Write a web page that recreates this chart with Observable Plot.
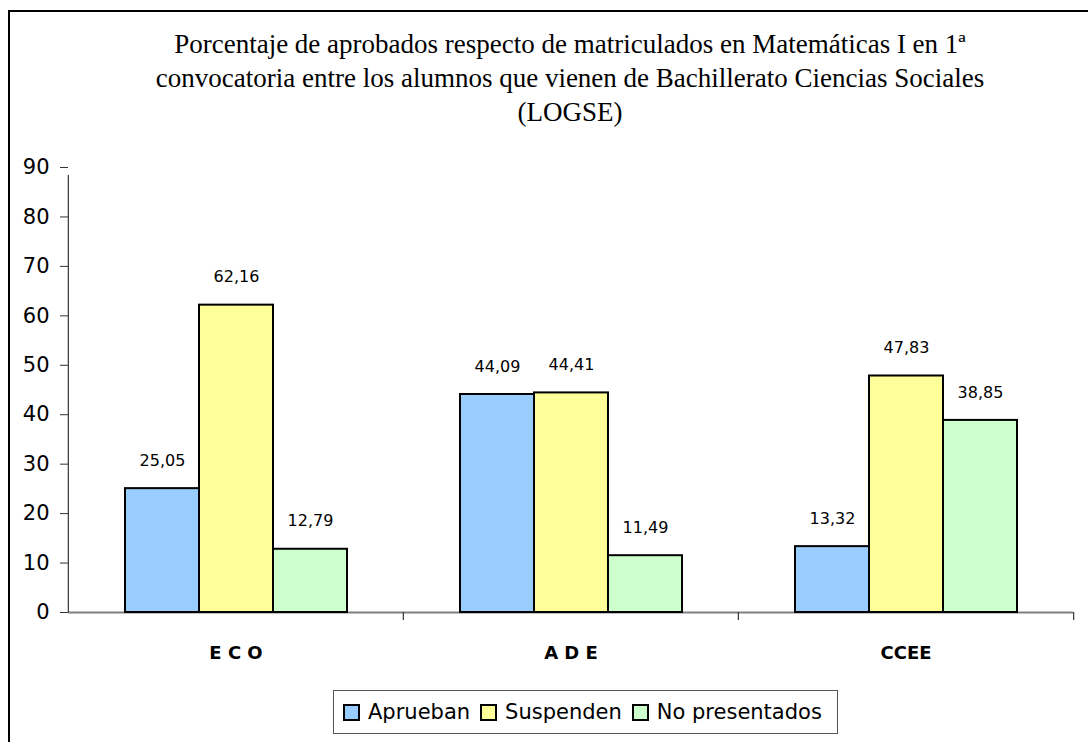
<!DOCTYPE html>
<html>
<head>
<meta charset="utf-8">
<script src="https://cdn.jsdelivr.net/npm/d3@7"></script>
<script src="https://cdn.jsdelivr.net/npm/@observablehq/plot@0.6"></script>
<style>
  html, body { margin: 0; padding: 0; background: #fff; width: 1088px; height: 742px; overflow: hidden; }
  #frame { position: absolute; left: 8px; top: 10px; width: 2000px; height: 2000px; border-left: 2px solid #000; border-top: 2px solid #000; box-sizing: border-box; }
  #title { position: absolute; left: 10px; width: 1120px; top: 27px; text-align: center; font-family: "Liberation Serif", "Times New Roman", serif; font-size: 27px; line-height: 34px; color: #000; }
  #chart { position: absolute; left: 0; top: 140px; }
  #legend { position: absolute; left: 333px; top: 690px; width: 505px; height: 44px; border: 1px solid #555; box-sizing: border-box; display: flex; align-items: center; padding-left: 9px; gap: 10px; font-family: "DejaVu Sans", sans-serif; font-size: 21px; color: #000; }
  .item { display: flex; align-items: center; gap: 8px; }
  .sw { width: 17px; height: 17px; border: 2px solid #000; box-sizing: border-box; }
</style>
</head>
<body>
<div id="frame"></div>
<div id="title"></div>
<div id="chart"></div>
<div id="legend"></div>
<script>
const titleLines = [
  "Porcentaje de aprobados respecto de matriculados en Matemáticas I en 1ª",
  "convocatoria entre los alumnos que vienen de Bachillerato Ciencias Sociales",
  "(LOGSE)"
];
const categories = ["E C O", "A D E", "CCEE"];
const series = ["Aprueban", "Suspenden", "No presentados"];
const aprueban = [25.05, 44.09, 13.32];
const suspenden = [62.16, 44.41, 47.83];
const noPresentados = [12.79, 11.49, 38.85];
const yTicks = [0, 10, 20, 30, 40, 50, 60, 70, 80, 90];
const colors = ["#99CCFF", "#FFFF99", "#CCFFCC"];

const valuesBySeries = [aprueban, suspenden, noPresentados];
const data = categories.flatMap((c, i) =>
  series.map((s, j) => ({category: c, series: s, value: valuesBySeries[j][i]}))
);

document.getElementById("title").innerHTML = titleLines.map(t => `<div>${t}</div>`).join("");

const W = 1088, ML = 67, MR = 15;
const band = (W - ML - MR) / categories.length;
const fmt = v => v.toFixed(2).replace(".", ",");

const chart = Plot.plot({
  width: W,
  height: 540,
  marginTop: 27,
  marginBottom: 68,
  marginLeft: ML,
  marginRight: MR,
  style: {fontFamily: "DejaVu Sans, sans-serif", fontSize: "16px", color: "#000", background: "transparent"},
  fx: {domain: categories, padding: 0, label: null},
  x: {domain: series, paddingInner: 0, paddingOuter: 0.7355, axis: null},
  y: {domain: [0, 90]},
  color: {domain: series, range: colors},
  marks: [
    Plot.ruleY([0], {stroke: "#808080", strokeWidth: 2}),
    Plot.ruleX([categories[0]], {fx: d => d, x: null, y1: 0, y2: 90, insetBottom: -8, dx: -band / 2, stroke: "#333", strokeWidth: 1.2}),
    Plot.ruleX(categories.slice(1), {fx: d => d, x: null, y1: 0, y2: 0, insetBottom: -8, dx: -band / 2, stroke: "#333", strokeWidth: 1.2}),
    Plot.ruleX([categories[categories.length - 1]], {fx: d => d, x: null, y1: 0, y2: 0, insetBottom: -8, dx: band / 2, stroke: "#333", strokeWidth: 1.2}),
    Plot.barY(data, {fx: "category", x: "series", y: "value", fill: "series", stroke: "#000", strokeWidth: 2}),
    Plot.text(data, {fx: "category", x: "series", y: "value", text: d => fmt(d.value), dy: -28, fontSize: 16, fill: "#000"}),
    Plot.axisY({ticks: yTicks, tickSize: 8, tickPadding: 11, fontSize: 21, tickFormat: d => String(d), label: null, stroke: "#333"}),
    Plot.axisFx({anchor: "bottom", tickSize: 0, tickPadding: 34, fontSize: 18, fontWeight: "bold", label: null})
  ]
});
document.getElementById("chart").appendChild(chart);

const legend = document.getElementById("legend");
series.forEach((s, i) => {
  const item = document.createElement("div");
  item.className = "item";
  item.innerHTML = `<div class="sw" style="background:${colors[i]}"></div><span>${s}</span>`;
  legend.appendChild(item);
});
</script>
</body>
</html>
